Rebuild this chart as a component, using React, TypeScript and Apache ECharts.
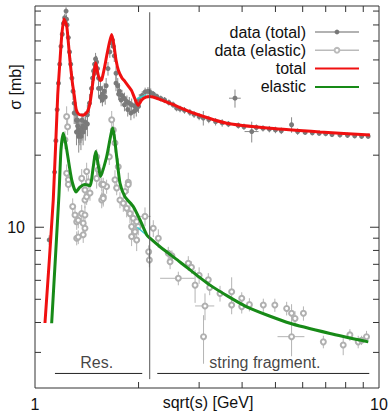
import React, { useEffect, useRef } from 'react';
import * as echarts from 'echarts';

const FONT = '"Liberation Sans", Arial, Helvetica, sans-serif';
const X_MIN = 1;
const X_MAX = 10;
const Y_MIN = 2.13;
const Y_MAX = 84;

const xLabelValues = [1, 10];
const yLabelValues = [10];
const xMinorTicks = [2, 3, 4, 5, 6, 7, 8, 9];
const yMinorTicks = [3, 4, 5, 6, 7, 8, 9, 20, 30, 40, 50, 60, 70, 80];
const yMajorTicks = [10];

// model curves [sqrt(s), sigma]
const totalCurve = [
  [1.069, 3.98], [1.13, 13.0], [1.164, 35.4], [1.182, 49.6], [1.196, 63.2], [1.214, 74.2],
  [1.236, 69.6], [1.25, 59.2], [1.264, 49.6], [1.284, 40.3], [1.301, 35.4], [1.318, 31.0],
  [1.342, 29.6], [1.38, 29.4], [1.42, 30.4], [1.445, 33.0], [1.465, 38.0], [1.485, 44.0],
  [1.501, 48.7], [1.52, 44.5], [1.545, 41.0], [1.563, 41.3], [1.59, 46.0], [1.615, 51.8],
  [1.645, 59.0], [1.671, 63.8], [1.695, 58.0], [1.72, 50.0], [1.747, 45.3], [1.79, 42.0],
  [1.827, 40.6], [1.87, 38.8], [1.909, 37.2], [1.95, 34.5], [1.995, 32.3], [2.042, 34.0],
  [2.1, 35.0], [2.159, 35.2], [2.283, 34.4], [2.523, 32.5], [2.885, 30.0], [3.608, 27.2],
  [4.823, 25.9], [6.737, 25.0], [9.415, 24.3],
];
const elasticCurve = [
  [1.118, 3.97], [1.174, 13.65], [1.19, 21.1], [1.209, 24.7], [1.23, 22.1], [1.278, 15.8],
  [1.316, 14.05], [1.351, 14.7], [1.397, 15.1], [1.445, 14.9], [1.477, 17.9], [1.501, 20.7],
  [1.552, 16.3], [1.615, 19.7], [1.682, 25.96], [1.728, 19.7], [1.766, 15.3], [1.826, 13.4],
  [1.931, 12.2], [2.02, 10.73], [2.112, 9.29], [2.159, 9.0], [2.309, 8.29], [2.639, 7.16],
  [3.227, 5.73], [4.125, 4.65], [5.511, 3.97], [7.204, 3.6], [9.309, 3.32],
];
const totalJoin = [[1.975, 34.4], [2.11, 35.8]];
const elasticJoin = [[1.984, 10.0], [2.14, 9.1]];

// measured data [sqrt(s), sigma, sigmaErr, sqrtsErr]
const totalData = [
  [1.1, 8.85, 0.4, 0], [1.14, 17, 1, 0], [1.15, 23, 1.5, 0], [1.16, 31, 2, 0], [1.17, 40, 2, 0],
  [1.18, 48, 2.5, 0], [1.19, 57, 3, 0], [1.2, 64, 3, 0], [1.21, 71, 3, 0], [1.22, 75, 3, 0],
  [1.231, 80, 3, 0], [1.235, 74, 3, 0], [1.24, 70, 3, 0], [1.25, 62, 3, 0], [1.26, 54, 3, 0],
  [1.27, 48, 3, 0], [1.28, 42, 3, 0], [1.29, 37, 3, 0], [1.3, 33, 3, 0], [1.31, 30, 3, 0],
  [1.32, 28, 3, 0], [1.33, 26.5, 3, 0], [1.34, 25.5, 3, 0], [1.35, 25, 3, 0], [1.36, 25.5, 3, 0],
  [1.37, 26, 3, 0], [1.38, 26.5, 3, 0], [1.4, 27.5, 3, 0], [1.42, 29.5, 3, 0], [1.44, 33, 3, 0],
  [1.46, 38, 3, 0], [1.48, 45, 3, 0], [1.49, 48, 3, 0], [1.5, 50.5, 3, 0], [1.51, 49, 3, 0],
  [1.52, 46, 3, 0], [1.53, 42, 3, 0], [1.55, 38, 3, 0], [1.57, 36, 3, 0], [1.59, 37, 3, 0],
  [1.61, 39, 3, 0], [1.63, 46, 3, 0], [1.65, 54, 3, 0], [1.67, 59, 3, 0], [1.68, 60.5, 3, 0],
  [1.69, 57, 3, 0], [1.7, 52, 3, 0], [1.72, 44, 3, 0], [1.74, 39, 3, 0], [1.76, 37, 3, 0],
  [1.79, 35.5, 2, 0], [1.82, 34.5, 2, 0], [1.85, 33.5, 2, 0], [1.88, 33, 2, 0], [1.91, 32.5, 2, 0],
  [1.95, 32, 2, 0], [1.98, 32.5, 2, 0], [2.01, 34, 2, 0], [2.05, 35.5, 1.5, 0], [2.09, 36.8, 1.5, 0],
  [2.13, 37, 1.5, 0], [2.17, 36.5, 1.5, 0], [2.21, 36, 1, 0], [2.26, 35.2, 1, 0], [2.32, 34.5, 1, 0],
  [2.38, 34, 1, 0], [2.45, 33.2, 1, 0], [2.52, 32.5, 1, 0], [2.58, 31.5, 1, 0], [2.64, 31.2, 1, 0],
  [2.72, 30.8, 1, 0], [2.82, 30.2, 1, 0], [2.9, 29.6, 1, 0], [3.0, 29, 1, 0], [3.085, 28.6, 2, 0],
  [3.2, 28.2, 1, 0], [3.35, 27.6, 1, 0], [3.5, 27.3, 1, 0], [3.65, 27.0, 0.8, 0], [3.814, 34.6, 3, 0.15],
  [3.9, 26.6, 0.8, 0], [4.05, 26.3, 0.8, 0], [4.266, 25.1, 2.5, 0.2], [4.4, 26.1, 0.8, 0],
  [4.6, 25.9, 0.8, 0], [4.8, 25.7, 0.8, 0], [5.0, 25.5, 0.8, 0], [5.2, 25.3, 0.8, 0], [5.57, 26.8, 2, 0],
  [5.8, 25.1, 0.8, 0], [6.1, 24.9, 0.6, 0], [6.4, 24.8, 0.6, 0], [6.7, 24.7, 0.6, 0], [7.0, 24.6, 0.6, 0],
  [7.3, 24.4, 0.6, 0], [7.7, 24.3, 0.6, 0], [8.1, 24.2, 0.6, 0], [8.5, 24.1, 0.6, 0], [8.9, 24.0, 0.6, 0],
  [9.3, 24.0, 0.6, 0],
  [1.3, 30, 3, 0], [1.32, 25, 3, 0], [1.34, 24, 3.5, 0], [1.36, 24, 3, 0], [1.38, 25, 3, 0],
  [1.4, 26, 3, 0], [1.42, 27, 3, 0], [1.33, 28, 2, 0], [1.37, 28, 2, 0], [1.47, 42, 4, 0],
  [1.49, 44, 3, 0], [1.53, 38, 3, 0], [1.55, 35, 2, 0], [1.57, 34, 2, 0], [1.6, 35, 2.5, 0],
  [1.72, 40, 3, 0], [1.75, 36, 2, 0], [1.78, 34, 2, 0], [1.82, 32.5, 2, 0], [1.86, 31, 2, 0],
  [1.9, 30, 2, 0], [1.94, 30.5, 2, 0], [1.97, 31, 2, 0], [2.0, 32, 2, 0],
];
const elasticData = [
  [1.222, 23.2, 2, 0], [1.236, 29.0, 3, 0], [1.244, 26.3, 2, 0], [1.236, 16.8, 1.5, 0],
  [1.25, 15.8, 1.5, 0], [1.25, 15.1, 1, 0], [1.287, 12.2, 1, 0], [1.307, 11.25, 1, 0],
  [1.322, 10.55, 0.8, 0], [1.336, 10.7, 0.8, 0], [1.367, 11.4, 1, 0], [1.397, 13.0, 1, 0],
  [1.413, 13.4, 1, 0], [1.397, 11.25, 1, 0], [1.381, 10.4, 0.8, 0], [1.397, 9.9, 0.8, 0],
  [1.381, 9.3, 0.7, 0], [1.322, 9.0, 0.6, 0], [1.336, 9.1, 0.6, 0], [1.563, 13.0, 1, 0],
  [1.579, 13.4, 1, 0], [1.367, 16.0, 1.5, 0], [1.397, 14.3, 1, 0], [1.445, 13.9, 1, 0],
  [1.511, 16.0, 1.5, 0], [1.527, 17.4, 1.5, 0], [1.563, 15.1, 1, 0], [1.413, 17.1, 1.5, 0],
  [1.429, 15.5, 1, 0], [1.511, 19.7, 1.5, 0], [1.545, 16.8, 1.5, 0], [1.615, 14.8, 1, 0],
  [1.671, 28.1, 2.5, 0], [1.689, 25.5, 2, 0], [1.708, 22.5, 2, 0], [1.644, 19.7, 1.5, 0],
  [1.746, 17.9, 1.5, 0], [1.708, 15.8, 1.5, 0.03], [1.867, 15.4, 1.5, 0], [1.827, 14.1, 1, 0],
  [1.579, 15.1, 1, 0], [1.579, 13.2, 1, 0], [1.728, 14.6, 1, 0.04], [1.867, 15.1, 0.8, 0],
  [1.766, 13.0, 1, 0], [1.806, 12.6, 1, 0], [1.847, 12.0, 1, 0], [1.888, 11.4, 1, 0],
  [1.93, 10.9, 1, 0], [1.975, 10.55, 0.8, 0], [1.909, 10.06, 0.8, 0], [1.953, 9.58, 0.8, 0],
  [1.909, 9.14, 0.8, 0], [2.088, 11.1, 1, 0.08], [2.207, 9.9, 0.8, 0], [2.283, 9.0, 0.8, 0],
  [1.996, 10.06, 0.8, 0], [1.975, 8.85, 0.9, 0], [2.14, 7.9, 0.5, 0], [2.15, 7.3, 0.5, 0],
  [2.44, 7.78, 0.5, 0], [2.47, 7.18, 0.5, 0], [2.5, 7.6, 0.4, 0], [2.61, 6.12, 0.4, 0.3],
  [2.79, 7.07, 0.5, 0], [2.85, 6.8, 0.4, 0], [2.92, 5.73, 0.9, 0], [3.0, 6.3, 0.5, 0],
  [3.19, 6.03, 0.4, 0], [3.22, 5.6, 0.4, 0], [3.12, 4.69, 0.6, 0.2], [3.09, 3.49, 0.8, 0],
  [3.45, 5.29, 0.4, 0], [3.73, 5.38, 0.8, 0], [3.73, 4.73, 0.4, 0], [3.99, 5.05, 0.3, 0],
  [3.99, 4.66, 0.3, 0], [4.2, 4.75, 0.3, 0], [4.61, 4.73, 0.3, 0], [4.98, 4.73, 0.3, 0],
  [5.39, 4.58, 0.3, 0], [5.57, 4.37, 0.4, 0], [5.7, 4.16, 0.3, 0], [5.57, 3.49, 0.6, 0.5],
  [6.03, 4.37, 0.3, 0], [6.89, 3.32, 0.2, 0], [7.87, 3.22, 0.3, 0], [8.23, 3.55, 0.2, 0],
  [8.7, 3.32, 0.2, 0], [8.9, 3.37, 0.15, 0], [9.2, 3.49, 0.2, 0],
];

const dividerLine = [[2.155, 79.1], [2.155, 2.32]];
const resLine = [[1.143, 2.45], [2.05, 2.45]];
const stringLine = [[2.267, 2.45], [9.37, 2.45]];
const regionLabels = [
  { name: 'Res.', value: [1.512, 2.45] },
  { name: 'string fragment.', value: [4.66, 2.45] },
];

const near = (v: number, list: number[]) => list.some((t) => Math.abs(v - t) < 1e-6 * t);

function errorBars(data: number[][], color: string) {
  return {
    type: 'custom',
    silent: true,
    z: 2,
    data,
    encode: { x: 0, y: 1 },
    renderItem: (_p: any, api: any) => {
      const x = api.value(0);
      const y = api.value(1);
      const ey = api.value(2);
      const ex = api.value(3);
      const c = api.coord([x, y]);
      const children: any[] = [];
      if (ey > 0) {
        const lo = api.coord([x, Math.max(y - ey, 0.01)]);
        const hi = api.coord([x, y + ey]);
        children.push({ type: 'line', shape: { x1: c[0], y1: lo[1], x2: c[0], y2: hi[1] }, style: { stroke: color, lineWidth: 1 } });
      }
      if (ex > 0) {
        const l = api.coord([x - ex, y]);
        const r = api.coord([x + ex, y]);
        children.push({ type: 'line', shape: { x1: l[0], y1: c[1], x2: r[0], y2: c[1] }, style: { stroke: color, lineWidth: 1 } });
      }
      return { type: 'group', children };
    },
  };
}

const TICK = '#333';
function xTicks() {
  return {
    type: 'custom', silent: true, z: 10, clip: false,
    data: xMinorTicks.map((v) => [v, Y_MIN, 6]),
    encode: { x: 0, y: 1 },
    renderItem: (_p: any, api: any) => {
      const v = api.value(0);
      const len = api.value(2);
      const b = api.coord([v, Y_MIN]);
      const t = api.coord([v, Y_MAX]);
      return {
        type: 'group',
        children: [
          { type: 'line', shape: { x1: b[0], y1: b[1], x2: b[0], y2: b[1] - len }, style: { stroke: TICK, lineWidth: 1 } },
          { type: 'line', shape: { x1: t[0], y1: t[1], x2: t[0], y2: t[1] + len }, style: { stroke: TICK, lineWidth: 1 } },
        ],
      };
    },
  };
}
function yTicks() {
  return {
    type: 'custom', silent: true, z: 10, clip: false,
    data: [...yMinorTicks.map((v) => [X_MIN, v, 6]), ...yMajorTicks.map((v) => [X_MIN, v, 9])],
    encode: { x: 0, y: 1 },
    renderItem: (_p: any, api: any) => {
      const v = api.value(1);
      const len = api.value(2);
      const l = api.coord([X_MIN, v]);
      const r = api.coord([X_MAX, v]);
      return {
        type: 'group',
        children: [
          { type: 'line', shape: { x1: l[0], y1: l[1], x2: l[0] + len, y2: l[1] }, style: { stroke: TICK, lineWidth: 1 } },
          { type: 'line', shape: { x1: r[0], y1: r[1], x2: r[0] - len, y2: r[1] }, style: { stroke: TICK, lineWidth: 1 } },
        ],
      };
    },
  };
}

export default function App() {
  const ref = useRef<HTMLDivElement>(null);
  useEffect(() => {
    const chart = echarts.init(ref.current!, null, { renderer: 'svg' });
    const txt = { fontSize: 16, color: '#111', fontFamily: FONT };
    const gtxt = { fontSize: 16, fontFamily: FONT, fill: '#111', textAlign: 'center', textVerticalAlign: 'middle', align: 'center', verticalAlign: 'middle' };
    chart.setOption({
      animation: false,
      backgroundColor: '#fff',
      grid: {
        left: 35, right: 10, top: 6, bottom: 23, show: true, borderColor: '#333', borderWidth: 1,
        backgroundColor: 'transparent', containLabel: false, outerBoundsMode: 'none',
      },
      xAxis: {
        type: 'log', logBase: 10, min: X_MIN, max: X_MAX,
        axisLine: { show: false }, axisTick: { show: false }, splitLine: { show: false },
        axisLabel: { ...txt, margin: 8, formatter: (v: number) => (near(v, xLabelValues) ? String(Math.round(v)) : '') },
      },
      yAxis: {
        type: 'log', logBase: 10, min: Y_MIN, max: Y_MAX,
        axisLine: { show: false }, axisTick: { show: false }, splitLine: { show: false },
        axisLabel: { ...txt, margin: 10, formatter: (v: number) => (near(v, yLabelValues) ? String(Math.round(v)) : '') },
      },
      legend: {
        orient: 'vertical', right: 29, top: 24, padding: 0, align: 'right',
        itemWidth: 44, itemHeight: 6, itemGap: 2.3,
        textStyle: { ...txt, lineHeight: 16, padding: [0, 4, 0, 0] },
        data: [
          { name: 'data (total)', lineStyle: { color: '#999', width: 1.5, opacity: 1 }, itemStyle: { color: '#777' } },
          { name: 'data (elastic)', lineStyle: { color: '#bbb', width: 1.5, opacity: 1 }, itemStyle: { color: '#bbb' } },
          { name: 'total', itemStyle: { opacity: 0 } },
          { name: 'elastic', itemStyle: { opacity: 0 } },
        ],
      },
      graphic: [
        { type: 'text', x: 15, y: 87, rotation: Math.PI / 2, style: { text: 'σ [mb]', ...gtxt } },
        { type: 'text', x: 208, y: 402, style: { text: 'sqrt(s) [GeV]', ...gtxt } },
      ],
      series: [
        errorBars(elasticData, '#b4b4b4'),
        {
          name: 'data (elastic)', type: 'line', data: elasticData.map((d) => [d[0], d[1]]),
          symbol: 'emptyCircle', symbolSize: 5, showAllSymbol: true, z: 3,
          itemStyle: { color: '#b0b0b0', borderWidth: 1 }, lineStyle: { opacity: 0 },
        },
        errorBars(totalData, '#8a8a8a'),
        {
          name: 'data (total)', type: 'line', data: totalData.map((d) => [d[0], d[1]]),
          symbol: 'circle', symbolSize: 5, showAllSymbol: true, z: 3,
          itemStyle: { color: '#7a7a7a' }, lineStyle: { opacity: 0 },
        },
        { type: 'line', data: totalJoin, symbol: 'none', lineStyle: { color: '#3cc', width: 1.5 }, z: 4 },
        { type: 'line', data: elasticJoin, symbol: 'none', lineStyle: { color: '#3cc', width: 1.5 }, z: 4 },
        { name: 'total', type: 'line', data: totalCurve, symbol: 'none', smooth: 0.2, lineStyle: { color: '#f01010', width: 3 }, itemStyle: { color: '#f01010' }, z: 5 },
        { name: 'elastic', type: 'line', data: elasticCurve, symbol: 'none', smooth: 0.2, lineStyle: { color: '#178a17', width: 3 }, itemStyle: { color: '#178a17' }, z: 5 },
        { type: 'line', data: dividerLine, symbol: 'none', lineStyle: { color: '#555', width: 1 }, z: 6 },
        { type: 'line', data: resLine, symbol: 'none', lineStyle: { color: '#222', width: 1 }, z: 6 },
        { type: 'line', data: stringLine, symbol: 'none', lineStyle: { color: '#222', width: 1 }, z: 6 },
        {
          type: 'scatter', data: regionLabels, symbolSize: 0, z: 6, silent: true,
          label: { show: true, position: 'top', distance: 3, formatter: '{b}', ...txt },
        },
        xTicks(),
        yTicks(),
      ],
    });
    return () => chart.dispose();
  }, []);
  return <div ref={ref} style={{ position: 'fixed', left: 0, top: 0, width: 389, height: 411 }} />;
}
